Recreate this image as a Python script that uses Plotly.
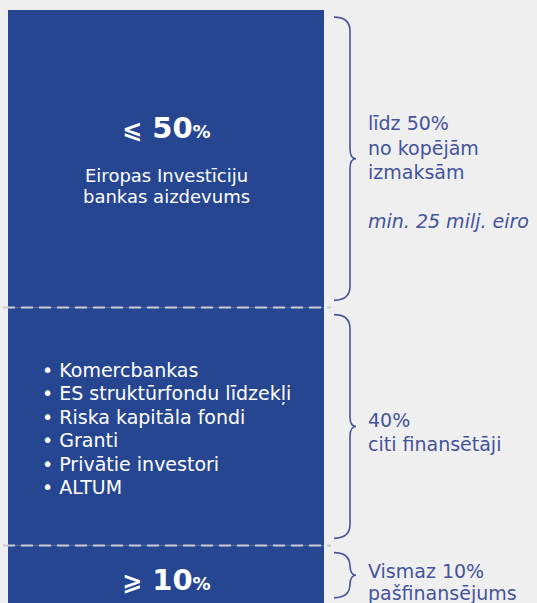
import plotly.graph_objects as go

# ---------------- data ----------------
segment_names = ["Pašfinansējums", "Citi finansētāji", "EIB aizdevums"]   # bottom -> top
segment_values = [10, 40, 50]
segment_signs = ["⩾", "", "⩽"]
segment_marks = ["10", "", "50"]
eib_desc_lines = ["Eiropas Investīciju", "bankas aizdevums"]
other_items = ["Komercbankas", "ES struktūrfondu līdzekļi", "Riska kapitāla fondi",
               "Granti", "Privātie investori", "ALTUM"]
right_notes = [
    ["Vismaz 10%", "pašfinansējums"],
    ["40%", "citi finansētāji"],
    ["līdz 50%", "no kopējām", "izmaksām", "", "<i>min. 25 milj. eiro</i>"],
]

# ---------------- style ----------------
W, H = 537, 603
ML, MR, MT, MB = 8, 213, 10, 0
PW = W - ML - MR
BAR = "#264692"
BG = "#efefef"
NOTE = "#44549c"
FONT = "DejaVu Sans, Open Sans, sans-serif"
PX_PER_UNIT = 5.95
YMIN = 100 - (H - MT - MB) / PX_PER_UNIT


def px2paper(px):
    return (px - ML) / PW


bases = [sum(segment_values[:i]) for i in range(len(segment_values))]
tops = [b + v for b, v in zip(bases, segment_values)]
mids = [b + v / 2 for b, v in zip(bases, segment_values)]

fig = go.Figure()
for name, val, base in zip(segment_names, segment_values, bases):
    fig.add_trace(go.Bar(x=[0], y=[val], base=[base], name=name, width=1,
                         marker=dict(color=BAR, line=dict(width=0)),
                         hoverinfo="skip", showlegend=False))

shapes = []
# dashed separators
for t in tops[:-1]:
    shapes.append(dict(type="line", xref="paper", yref="y",
                       x0=px2paper(3), x1=px2paper(331), y0=t, y1=t,
                       line=dict(color="#c9cbd0", width=2, dash="12px,6px")))


def brace(y_top, y_bot):
    xe, xs, xt = px2paper(334), px2paper(350), px2paper(356)
    r1 = 14 / PX_PER_UNIT
    r2 = 10 / PX_PER_UNIT
    ym = (y_top + y_bot) / 2
    return (f"M {xe},{y_top} Q {xs},{y_top} {xs},{y_top - r1} "
            f"L {xs},{ym + r2} Q {xs},{ym} {xt},{ym} "
            f"Q {xs},{ym} {xs},{ym - r2} "
            f"L {xs},{y_bot + r1} Q {xs},{y_bot} {xe},{y_bot}")


inset = 1.2
for b, t in zip(bases, tops):
    shapes.append(dict(type="path", xref="paper", yref="y",
                       path=brace(t - inset, b + inset),
                       line=dict(color="#48579a", width=1.6)))

ann = []


def add(text, x, xref, y, yshift, size, color, xanchor="center"):
    ann.append(dict(text=text, x=x, xref=xref, y=y, yref="y", yshift=yshift,
                    xanchor=xanchor, yanchor="middle", showarrow=False,
                    font=dict(family=FONT, size=size, color=color)))


def big_mark(sign, num):
    return (f"<b><span style='font-size:24px'>{sign}</span> "
            f"{num}<span style='font-size:18px'>%</span></b>")


# top segment (EIB)
mid_top = mids[2]
add(big_mark(segment_signs[2], segment_marks[2]), px2paper(166), "paper", mid_top, 31, 29, "white")
for i, line in enumerate(eib_desc_lines):
    add(line, px2paper(166), "paper", mid_top, -17 - 20.5 * i, 18, "white")

# middle segment bullets
n = len(other_items)
for i, item in enumerate(other_items):
    add("• " + item, px2paper(40), "paper", mids[1], (n - 1) / 2 * 23.4 - i * 23.4 - 2,
        19, "white", xanchor="left")

# bottom segment mark
add(big_mark(segment_signs[0], segment_marks[0]), px2paper(166), "paper", mids[0], -5, 29, "white")

# right notes
note_shifts = [[4, -18], [6.5, -17.5], [35.5, 11, -13.5, -38, -62]]
for seg_i, lines in enumerate(right_notes):
    for line, sh in zip(lines, note_shifts[seg_i]):
        if line:
            add(line, px2paper(366), "paper", mids[seg_i], sh, 19, NOTE, xanchor="left")

fig.update_layout(
    width=W, height=H, barmode="overlay",
    margin=dict(l=ML, r=MR, t=MT, b=MB, pad=0),
    paper_bgcolor=BG, plot_bgcolor=BG,
    xaxis=dict(range=[-0.5, 0.5], visible=False, fixedrange=True),
    yaxis=dict(range=[YMIN, 100], visible=False, fixedrange=True),
    shapes=shapes, annotations=ann, showlegend=False,
)
fig.write_html("out.html", config={"displayModeBar": False},
               post_script="document.body.style.margin='0';document.body.style.overflow='hidden';")
